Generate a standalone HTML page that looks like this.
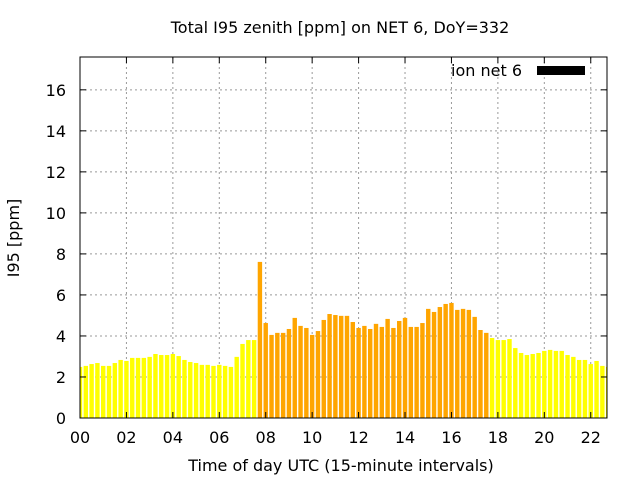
<!DOCTYPE html>
<html><head><meta charset="utf-8"><style>body{margin:0;background:#fff}svg{display:block;font-family:"DejaVu Sans","Liberation Sans",sans-serif}</style></head>
<body>
<svg id="chart" width="640" height="480">
<text x="340" y="33" text-anchor="middle" font-size="16">Total I95 zenith [ppm] on NET 6, DoY=332</text>
<text x="341" y="471" text-anchor="middle" font-size="16">Time of day UTC (15-minute intervals)</text>
<text transform="translate(19,238) rotate(-90)" text-anchor="middle" font-size="16">I95 [ppm]</text>
<g id="grid"></g><g id="bars"></g><g id="axes"></g>
<text x="522" y="76" text-anchor="end" font-size="16">ion net 6</text>
<rect x="537" y="66" width="48" height="9" fill="#000"/>
</svg>
<script>
const yVals1=[2.49,2.54,2.63,2.68,2.54,2.54,2.68,2.83,2.78,2.93,2.93,2.93,2.98,3.12,3.07,3.07,3.12,3.02,2.83,2.73,2.68,2.59,2.59,2.54,2.59,2.54,2.49,2.98,3.61,3.80,3.80];
const oVals=[7.61,4.63,4.05,4.15,4.15,4.34,4.88,4.49,4.39,4.05,4.24,4.78,5.07,5.02,4.98,4.98,4.68,4.39,4.49,4.34,4.59,4.44,4.83,4.39,4.73,4.88,4.44,4.44,4.63,5.32,5.17,5.41,5.56,5.61,5.27,5.32,5.27,4.93,4.29,4.15];
const yVals2=[3.90,3.80,3.80,3.85,3.41,3.17,3.07,3.12,3.17,3.27,3.32,3.27,3.27,3.07,2.98,2.83,2.83,2.63,2.78,2.54,2.49];
const yTicks=[0,2,4,6,8,10,12,14,16];
const xTicks=["00","02","04","06","08","10","12","14","16","18","20","22"];
const L=80,R=607,T=57,B=418,ymax=17.6,xmax=22.7;
const X=h=>L+h/xmax*(R-L), Y=v=>B-v/ymax*(B-T);
const NS="http://www.w3.org/2000/svg";
function mk(t,a,p){const e=document.createElementNS(NS,t);for(const k in a)e.setAttribute(k,a[k]);p.appendChild(e);return e;}
const grid=document.getElementById('grid'),bars=document.getElementById('bars'),axes=document.getElementById('axes');
yTicks.forEach(v=>{const y=Y(v);
 if(v>0){const g=mk('line',{x1:L,x2:R,y1:y,y2:y,stroke:'#999','stroke-dasharray':'2,3'},grid);
 
 }
 mk('line',{x1:L,x2:L+6,y1:y,y2:y,stroke:'#000'},axes);mk('line',{x1:R,x2:R-6,y1:y,y2:y,stroke:'#000'},axes);
 const t=mk('text',{x:L-14,y:y+6,'text-anchor':'end','font-size':16},axes);t.textContent=v;
 
 });
xTicks.forEach(s=>{const x=X(+s);
 if(+s>0){const g=mk('line',{x1:x,x2:x,y1:T,y2:B,stroke:'#999','stroke-dasharray':'2,3'},grid);
 
 }
 mk('line',{x1:x,x2:x,y1:B,y2:B-6,stroke:'#000'},axes);mk('line',{x1:x,x2:x,y1:T,y2:T+6,stroke:'#000'},axes);
 const t=mk('text',{x:x,y:B+25,'text-anchor':'middle','font-size':16},axes);t.textContent=s;
 
 });
const all=[...yVals1.map(v=>[v,'#ffff00']),...oVals.map(v=>[v,'#ffa500']),...yVals2.map(v=>[v,'#ffff00'])];
const bw=(X(0.25)-X(0))*0.76;
all.forEach(([v,c],i)=>{const cx=X(i*0.25);let x0=Math.max(L,cx-bw/2),x1=Math.min(R,cx+bw/2);
 const r=mk('rect',{x:x0,y:Y(v),width:x1-x0,height:B-Y(v),fill:c},bars);
 
 });
const f=mk('rect',{x:L,y:T,width:R-L,height:B-T,fill:'none',stroke:'#000'},axes);


</script>
</body></html>
